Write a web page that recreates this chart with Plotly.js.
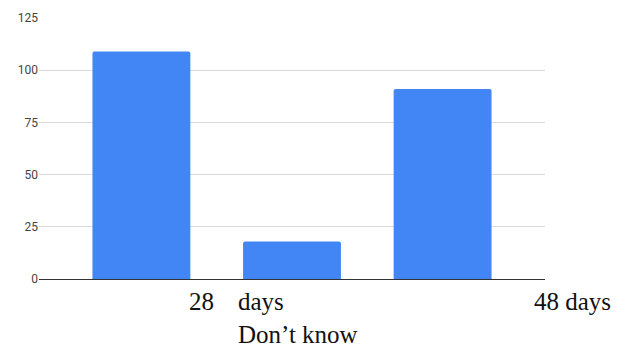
<!DOCTYPE html>
<html>
<head>
<meta charset="utf-8">
<script src="https://cdn.plot.ly/plotly-3.0.1.min.js"></script>
<style>html,body{margin:0;padding:0;background:#fff;}#chart{width:627px;height:349px;}</style>
</head>
<body>
<div id="chart"></div>
<script>
const categories = ["28 days", "Don’t know", "48 days"];
const values = [109, 18, 91];
const yTicks = [0, 25, 50, 75, 100, 125];
const labelTexts = ["28", "days", "Don’t know", "48 days"];
const labelX = [0.2925, 0.389, 0.389, 0.974];
const labelY = [-0.088, -0.088, -0.213, -0.088];

const W = 627, H = 349;
const trace = {
  type: 'bar',
  x: categories,
  y: values,
  marker: {color: '#4285F4', cornerradius: 2},
  hoverinfo: 'none'
};
const annotations = labelTexts.map((t, i) => ({
  text: t, xref: 'paper', yref: 'paper', x: labelX[i], y: labelY[i],
  xanchor: 'left', yanchor: 'middle', showarrow: false,
  font: {family: 'Liberation Serif, serif', size: 25, color: '#111'}
}));
const layout = {
  width: W, height: H,
  margin: {l: 39, r: 82, t: 18, b: 70},
  paper_bgcolor: '#fff', plot_bgcolor: '#fff',
  showlegend: false,
  bargap: 0.35,
  xaxis: {
    type: 'category', range: [-0.68, 2.68], showticklabels: false,
    showgrid: false, zeroline: false, showline: false, ticks: ''
  },
  yaxis: {
    range: [0, 125], tickvals: yTicks, ticktext: yTicks.map(String),
    showgrid: true, gridcolor: '#d9d9d9', gridwidth: 1,
    zeroline: true, zerolinecolor: '#333', zerolinewidth: 1,
    showline: false, ticks: '',
    tickfont: {family: 'Roboto, Arial, sans-serif', size: 12, color: '#444'}
  },
  annotations: annotations
};
Plotly.newPlot('chart', [trace], layout, {staticPlot: true, displayModeBar: false});
</script>
</body>
</html>
